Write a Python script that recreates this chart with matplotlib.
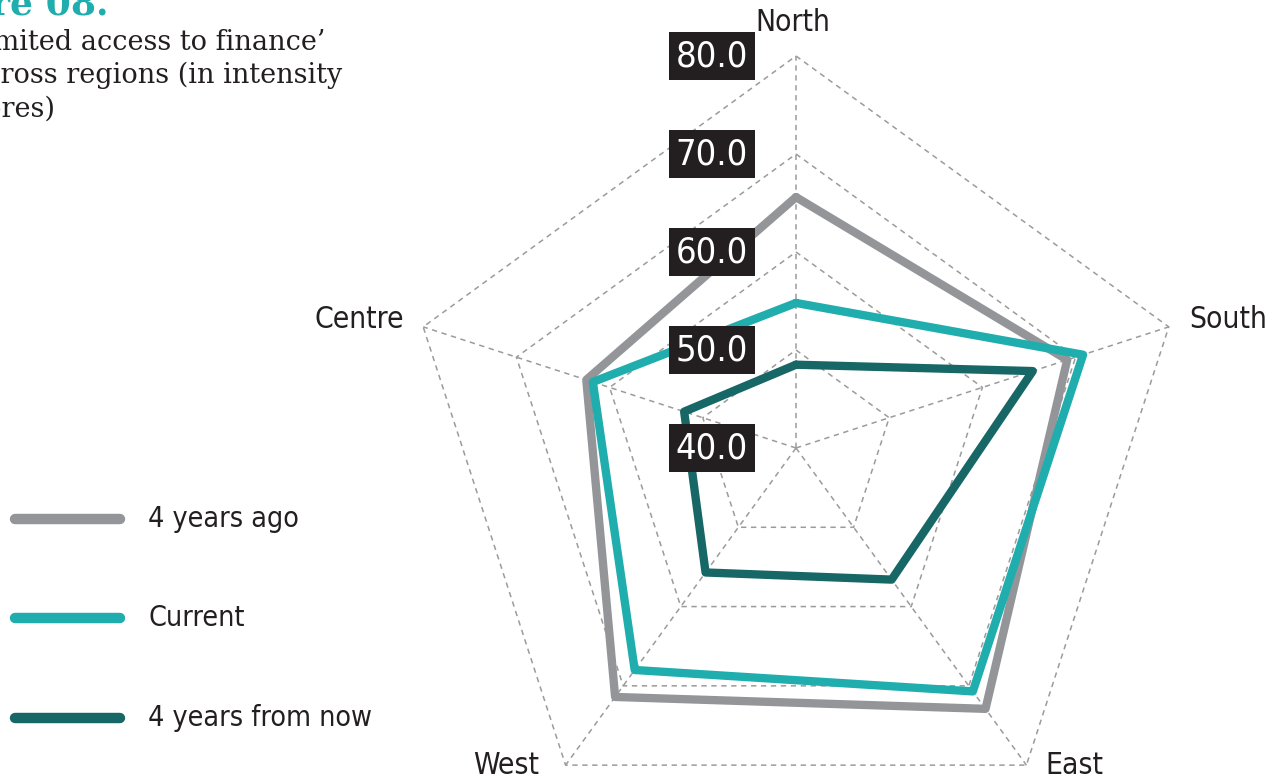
import numpy as np
import matplotlib
matplotlib.use("Agg")
import matplotlib.pyplot as plt
from matplotlib.lines import Line2D

# Regions (clockwise from the top) and intensity scores per period
regions = ["North", "South", "East", "West", "Centre"]
four_years_ago = [65.6, 69.1, 72.9, 71.4, 62.5]
current = [54.8, 70.8, 70.7, 68.0, 61.8]
four_years_from_now = [48.5, 65.4, 56.6, 55.7, 52.0]
series_labels = ["4 years ago", "Current", "4 years from now"]
ring_values = [50.0, 60.0, 70.0, 80.0]
tick_values = [40.0, 50.0, 60.0, 70.0, 80.0]
r_min, r_max = 40.0, 80.0

GREY = "#939598"
TEAL = "#20adad"
DARK = "#176766"
INK = "#231f20"
GRID = "#9b9b9b"
colors = [GREY, TEAL, DARK]

COND = ["DejaVu Sans"]
SERIF = ["DejaVu Serif"]

W, H = 1282, 782
fig = plt.figure(figsize=(W / 100, H / 100), dpi=100)
fig.patch.set_facecolor("white")

# polar axes centred at (796, 448) px with outer ring radius 392 px
cx, cy, rad = 796, 448, 392
ax = fig.add_axes([(cx - rad) / W, (H - cy - rad) / H, 2 * rad / W, 2 * rad / H],
                  projection="polar")
ax.set_theta_zero_location("N")
ax.set_theta_direction(-1)
ax.set_ylim(r_min, r_max)
ax.grid(False)
ax.set_xticks([])
ax.set_yticks([])
ax.spines["polar"].set_visible(False)
ax.patch.set_alpha(0)

n = len(regions)
angles = np.linspace(0, 2 * np.pi, n, endpoint=False)
closed = np.concatenate([angles, angles[:1]])

dash = (0, (3.5, 3.0))
# pentagon rings
for rv in ring_values:
    ax.plot(closed, [rv] * (n + 1), color=GRID, lw=1.1, linestyle=dash,
            clip_on=False, zorder=1)
# spokes
for a in angles:
    ax.plot([a, a], [r_min, r_max], color=GRID, lw=1.1, linestyle=dash,
            clip_on=False, zorder=1)

# series polygons
for vals, col in zip([four_years_ago, current, four_years_from_now], colors):
    v = list(vals) + [vals[0]]
    ax.plot(closed, v, color=col, lw=6.0, solid_joinstyle="round",
            solid_capstyle="round", clip_on=False, zorder=3)

# radial tick labels on dark boxes
for tv in tick_values:
    ax.annotate(f"{tv:.1f}", xy=(0, tv), xytext=(-84, 0), textcoords="offset pixels",
                ha="center", va="center", color="white", fontsize=26,
                family=COND, stretch="condensed", zorder=5, annotation_clip=False,
                bbox=dict(boxstyle="square,pad=0.2", fc=INK, ec="none"))

# region labels
label_pos = {
    "North": ((-3, 34), "center", "center"),
    "South": ((20, 7), "left", "center"),
    "East": ((19, 0), "left", "center"),
    "West": ((-26, 0), "right", "center"),
    "Centre": ((-19, 7), "right", "center"),
}
for a, name in zip(angles, regions):
    off, ha, va = label_pos[name]
    ax.annotate(name, xy=(a, r_max), xytext=off, textcoords="offset pixels",
                ha=ha, va=va, color=INK, fontsize=21.5, family=COND,
                stretch="condensed", annotation_clip=False)

# legend
legend_y = [519, 618, 718]
for lab, col, y in zip(series_labels, colors, legend_y):
    fig.add_artist(Line2D([15 / W, 120 / W], [1 - y / H, 1 - y / H], color=col,
                          lw=7.5, solid_capstyle="round", transform=fig.transFigure))
    fig.text(148 / W, 1 - y / H, lab, ha="left", va="center", color=INK,
             fontsize=20.5, family=COND, stretch="condensed")

# title block
fig.text(108 / W, 1 - 15 / H, "Figure 08.", ha="right", va="baseline",
         color=TEAL, fontsize=26, fontweight="heavy", family=SERIF)
title_lines = [("\u2018Limited access to finance\u2019", 325, 50),
               ("across regions (in intensity", 342, 83),
               ("scores)", 55, 117)]
for txt, right, base in title_lines:
    fig.text(right / W, 1 - base / H, txt, ha="right", va="baseline",
             color=INK, fontsize=19.5, family=SERIF)

fig.savefig("out.png", dpi=100)
